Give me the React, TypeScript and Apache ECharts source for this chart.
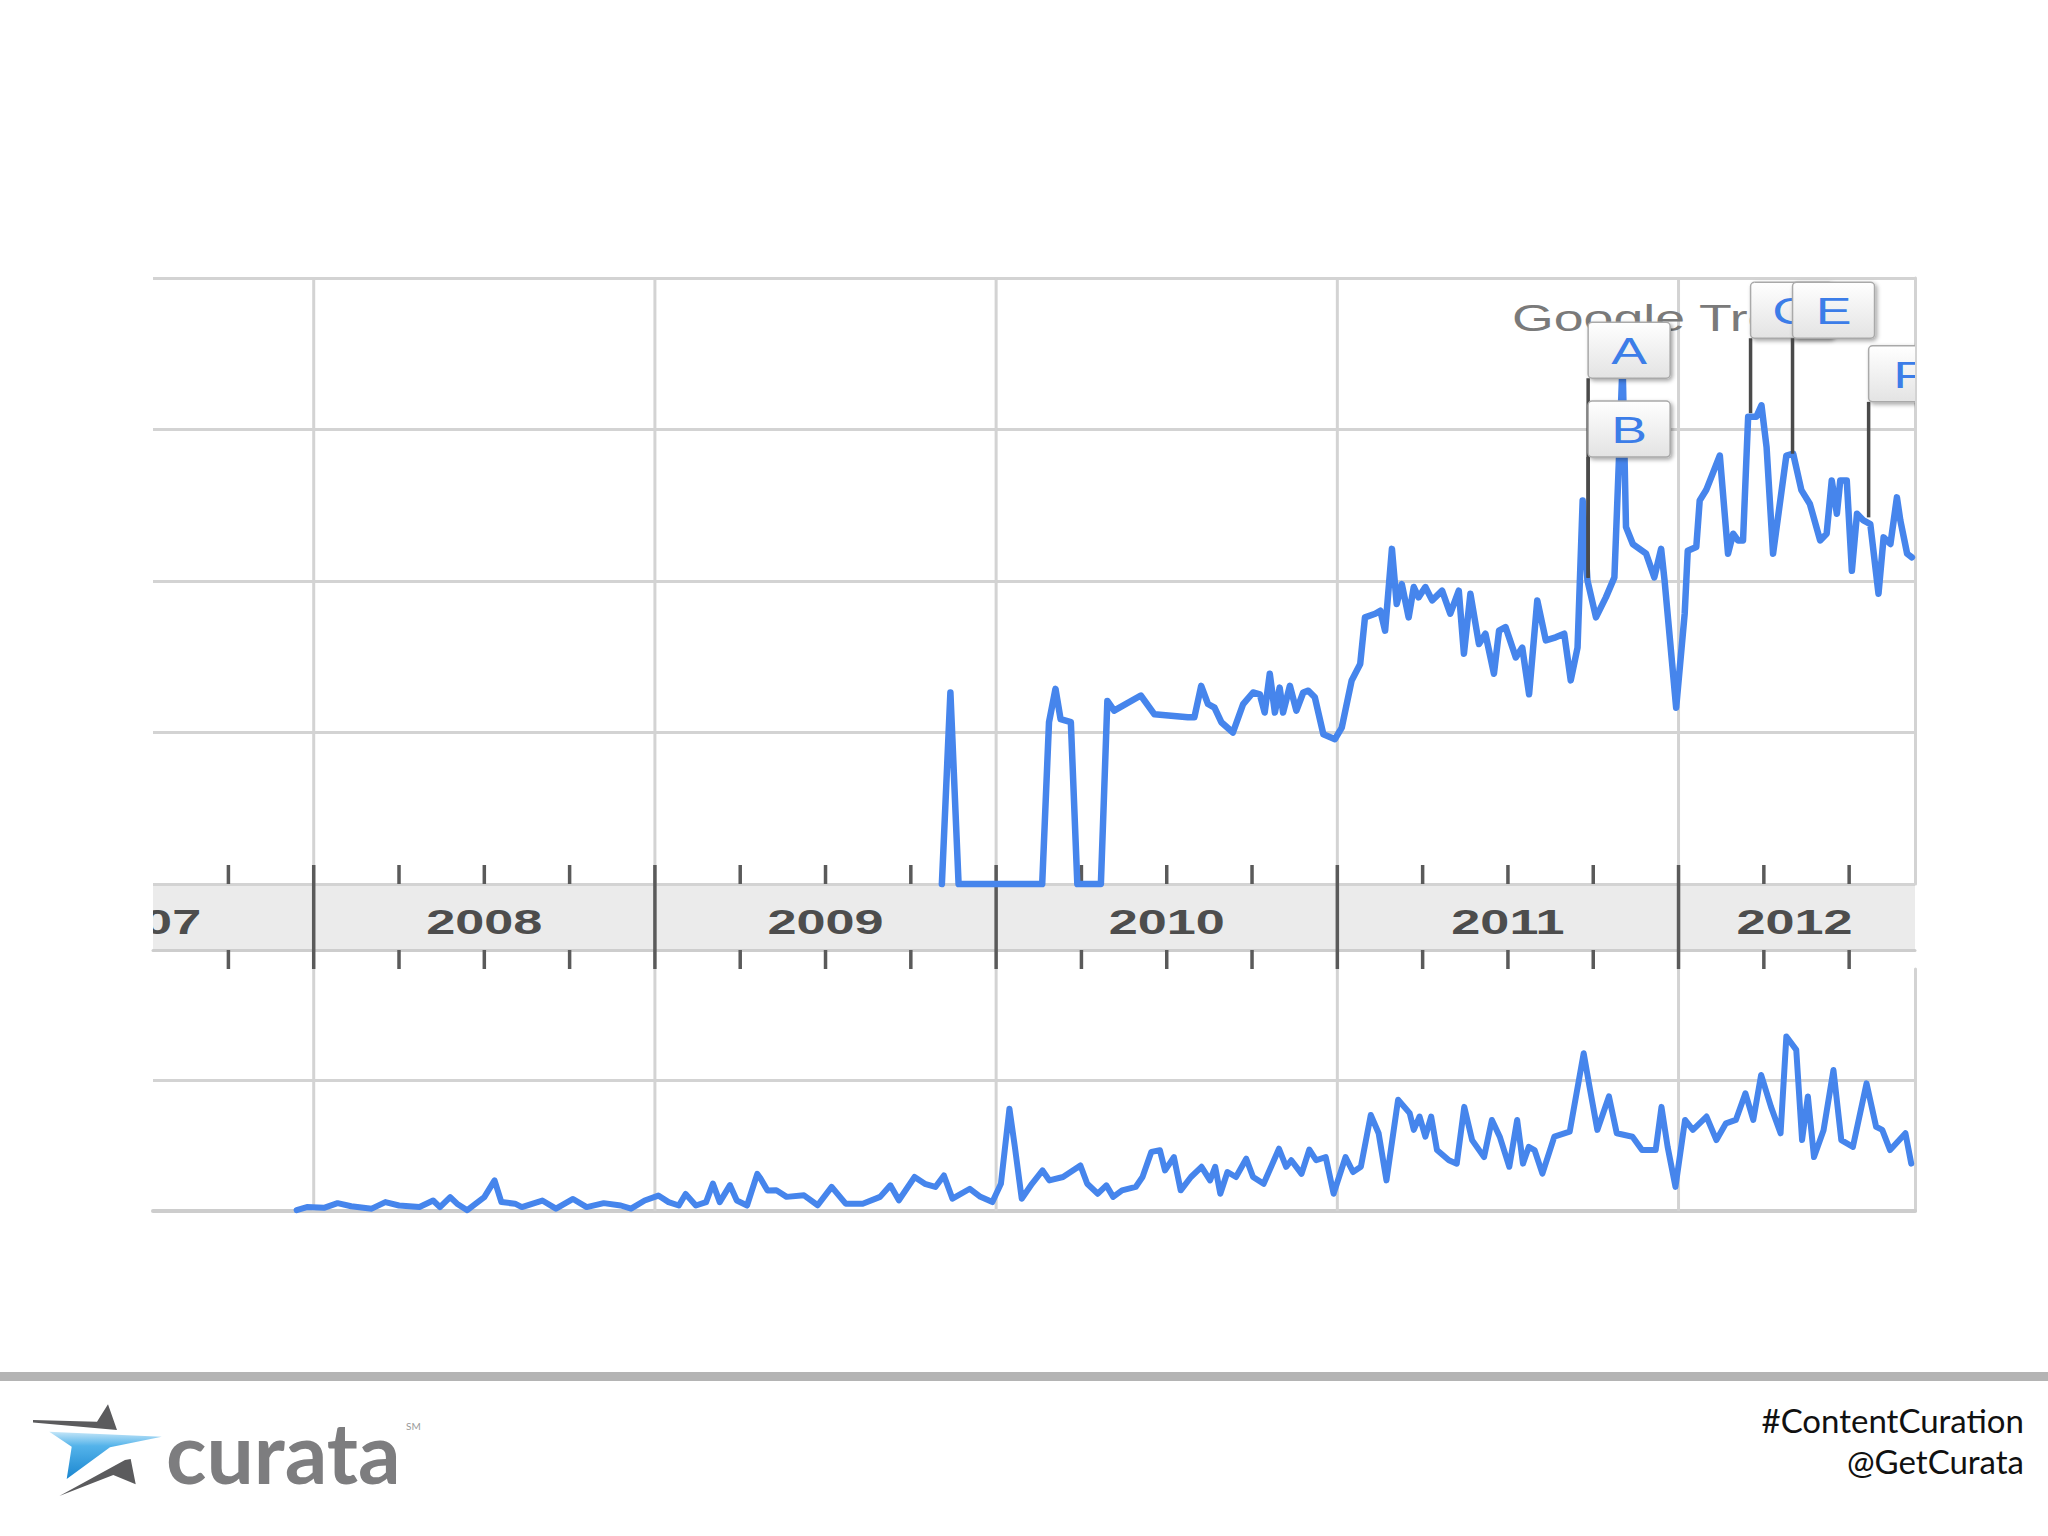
import React, { useEffect, useRef } from "react";
import * as echarts from "echarts";

// ---------- axis range (fractional years) ----------
const X_MIN = 2007.529;
const X_MAX = 2012.693;

const yearBoundaries = [2008, 2009, 2010, 2011, 2012];
const quarterTicks = [
  2007.75, 2008.25, 2008.5, 2008.75, 2009.25, 2009.5, 2009.75, 2010.25, 2010.5,
  2010.75, 2011.25, 2011.5, 2011.75, 2012.25, 2012.5,
];
const yearLabels = ["2007", "2008", "2009", "2010", "2011", "2012"];
const yearLabelPositions = [2007.5, 2008.5, 2009.5, 2010.5, 2011.5, 2012.34];

// ---------- search volume (upper chart) ----------
const upperYears = [
  2009.841, 2009.866, 2009.89, 2010.135, 2010.155, 2010.174, 2010.189, 2010.219, 2010.238,
  2010.307, 2010.326, 2010.346, 2010.424, 2010.464, 2010.562, 2010.581, 2010.601, 2010.621,
  2010.64, 2010.66, 2010.694, 2010.724, 2010.753, 2010.773, 2010.787, 2010.802, 2010.817,
  2010.831, 2010.841, 2010.861, 2010.88, 2010.9, 2010.915, 2010.934, 2010.959, 2010.993,
  2011.013, 2011.042, 2011.067, 2011.081, 2011.111, 2011.126, 2011.14, 2011.16, 2011.174,
  2011.189, 2011.209, 2011.224, 2011.238, 2011.258, 2011.278, 2011.307, 2011.331, 2011.356,
  2011.371, 2011.39, 2011.415, 2011.434, 2011.459, 2011.474, 2011.493, 2011.523, 2011.542,
  2011.562, 2011.586, 2011.611, 2011.64, 2011.665, 2011.684, 2011.704, 2011.719, 2011.733,
  2011.758, 2011.787, 2011.812, 2011.826, 2011.836, 2011.846, 2011.866, 2011.905, 2011.929,
  2011.949, 2011.959, 2011.993, 2012.018, 2012.027, 2012.052, 2012.062, 2012.081, 2012.121,
  2012.145, 2012.16, 2012.174, 2012.189, 2012.204, 2012.228, 2012.243, 2012.258, 2012.277,
  2012.316, 2012.336, 2012.36, 2012.385, 2012.415, 2012.434, 2012.449, 2012.464, 2012.474,
  2012.493, 2012.508, 2012.523, 2012.542, 2012.562, 2012.586, 2012.601, 2012.621, 2012.64,
  2012.65, 2012.67, 2012.684,
];
const upperValues = [
  0, 31.6, 0, 0, 26.7, 32.2, 27.2, 26.7, 0,
  0, 30.2, 28.6, 31.1, 28.0, 27.5, 27.5, 32.7, 29.7,
  29.1, 26.7, 25.0, 29.7, 31.6, 31.3, 28.3, 34.7, 28.3,
  32.4, 28.3, 32.7, 28.6, 31.6, 31.9, 30.8, 24.7, 23.9,
  25.8, 33.6, 36.3, 44.0, 44.6, 45.1, 41.8, 55.3, 46.2,
  49.5, 44.0, 49.0, 47.3, 49.0, 46.8, 48.4, 44.6, 48.4,
  38.0, 47.9, 39.6, 41.3, 34.7, 41.8, 42.4, 37.4, 39.0,
  31.3, 46.8, 40.2, 40.7, 41.3, 33.6, 39.0, 63.3, 50.1,
  44.0, 47.3, 50.6, 71.0, 86.0, 58.9, 56.1, 54.5, 50.6,
  55.3, 50.1, 29.1, 44.6, 55.0, 55.6, 63.3, 65.0, 70.7,
  54.5, 57.8, 56.7, 56.7, 77.1, 77.1, 79.0, 72.1, 54.5,
  70.7, 71.0, 65.0, 62.7, 56.7, 57.8, 66.6, 61.1, 66.6,
  66.6, 51.7, 61.1, 60.0, 59.4, 47.9, 57.2, 56.1, 63.8,
  60.0, 54.5, 53.9,
];

// ---------- news reference volume (lower chart) ----------
const lowerYears = [
  2007.95, 2007.98, 2008.03, 2008.07, 2008.11, 2008.17, 2008.21, 2008.25, 2008.31, 2008.35,
  2008.37, 2008.4, 2008.42, 2008.45, 2008.5, 2008.53, 2008.55, 2008.59, 2008.61, 2008.67,
  2008.71, 2008.76, 2008.8, 2008.85, 2008.9, 2008.93, 2008.97, 2009.01, 2009.04, 2009.07,
  2009.09, 2009.12, 2009.15, 2009.17, 2009.19, 2009.22, 2009.24, 2009.27, 2009.3, 2009.31,
  2009.33, 2009.356, 2009.386, 2009.437, 2009.477, 2009.518, 2009.559, 2009.609, 2009.66,
  2009.69, 2009.715, 2009.761, 2009.791, 2009.822, 2009.847, 2009.872, 2009.923, 2009.954,
  2009.989, 2010.014, 2010.039, 2010.055, 2010.075, 2010.105, 2010.136, 2010.156, 2010.196,
  2010.247, 2010.267, 2010.298, 2010.323, 2010.343, 2010.369, 2010.409, 2010.429, 2010.455,
  2010.48, 2010.495, 2010.521, 2010.541, 2010.571, 2010.602, 2010.627, 2010.642, 2010.657,
  2010.678, 2010.703, 2010.733, 2010.753, 2010.784, 2010.829, 2010.85, 2010.865, 2010.895,
  2010.918, 2010.938, 2010.966, 2010.989, 2011.024, 2011.046, 2011.069, 2011.098, 2011.121,
  2011.144, 2011.178, 2011.212, 2011.224, 2011.241, 2011.258, 2011.275, 2011.292, 2011.327,
  2011.35, 2011.372, 2011.395, 2011.43, 2011.453, 2011.476, 2011.504, 2011.527, 2011.544,
  2011.561, 2011.578, 2011.601, 2011.636, 2011.681, 2011.722, 2011.739, 2011.762, 2011.796,
  2011.819, 2011.865, 2011.893, 2011.933, 2011.95, 2011.968, 2011.991, 2012.019, 2012.042,
  2012.082, 2012.111, 2012.139, 2012.168, 2012.196, 2012.219, 2012.242, 2012.271, 2012.299,
  2012.316, 2012.345, 2012.362, 2012.379, 2012.397, 2012.425, 2012.454, 2012.477, 2012.511,
  2012.551, 2012.579, 2012.597, 2012.62, 2012.665, 2012.682,
];
const lowerValues = [
  0.3, 1.5, 1.2, 3.0, 1.8, 0.9, 3.4, 2.1, 1.5, 4.0,
  1.5, 5.3, 2.8, 0.3, 5.3, 11.7, 3.4, 2.8, 1.5, 4.0,
  0.9, 4.6, 1.5, 3.0, 2.1, 0.9, 4.0, 5.9, 3.4, 2.1,
  6.5, 2.1, 3.4, 10.5, 3.4, 9.9, 4.0, 2.1, 14.2, 12.3,
  7.8, 7.9, 5.4, 6.0, 2.2, 9.2, 2.8, 2.8, 5.4,
  9.8, 4.1, 13.0, 10.4, 9.2, 13.6, 4.7, 8.5, 5.4,
  3.4, 10.4, 39.1, 24.4, 4.7, 10.4, 15.5, 11.7, 13.0,
  17.4, 10.4, 6.6, 9.8, 5.4, 7.9, 9.2, 13.0, 22.6,
  23.2, 15.5, 20.6, 7.9, 13.0, 16.9, 11.7, 16.9, 6.6,
  14.9, 13.0, 20.0, 13.0, 10.4, 23.8, 16.9, 19.4, 14.2,
  23.5, 19.4, 20.6, 6.6, 20.6, 14.9, 16.9, 36.7, 29.7,
  11.7, 42.5, 37.4, 31.0, 36.1, 28.4, 36.1, 23.3, 19.4,
  18.1, 39.8, 27.1, 20.6, 34.8, 28.4, 16.9, 34.8, 18.1,
  24.5, 23.3, 14.3, 28.4, 30.3, 60.3, 47.6, 31.0, 43.8,
  29.7, 28.4, 23.3, 23.3, 39.8, 24.5, 9.2, 34.8, 31.0,
  36.1, 27.1, 33.5, 34.8, 45.0, 34.8, 52.0, 39.8, 29.7,
  66.7, 61.6, 27.1, 43.8, 20.6, 30.9, 53.9, 27.1, 24.5,
  48.8, 32.2, 31.0, 23.3, 29.7, 18.1,
];

// ---------- event flags ----------
const flagLetters = ["A", "B", "C", "E", "F"];
const flagYears = [2011.738, 2011.738, 2012.214, 2012.337, 2012.56];
const flagValues = [50.5, 50.6, 77.7, 71.0, 60.5];
const flagBoxTops = [92.7, 79.7, 99.3, 99.3, 88.8];

const LINE_COLOR = "#4685ec";
const GRID_COLOR = "#d3d3d3";
const TICK_COLOR = "#5a5a5a";
const STRETCH = 1.45;

export default function App() {
  const ref = useRef<HTMLDivElement>(null);

  useEffect(() => {
    if (!ref.current) return;
    const chart = echarts.init(ref.current, null, { renderer: "svg" });

    const vGrid = (color: string, extra: number) => (params: any, api: any) => {
      const p = api.coord([api.value(0), api.value(1)]);
      const s = params.coordSys;
      return {
        type: "line",
        shape: { x1: p[0], y1: s.y - extra, x2: p[0], y2: s.y + s.height + extra },
        style: { stroke: color, lineWidth: 3 },
      };
    };

    const boxFill = new echarts.graphic.LinearGradient(0, 0, 0, 1, [
      { offset: 0, color: "#ffffff" },
      { offset: 1, color: "#e3e3e3" },
    ]);

    const option: any = {
      animation: false,
      backgroundColor: "#ffffff",
      grid: [
        { left: 153, right: 133, top: 278, height: 606 },
        { left: 153, right: 133, top: 884, height: 66, show: true, backgroundColor: "#ebebeb", borderWidth: 0 },
        { left: 153, right: 133, top: 969, height: 242 },
      ],
      xAxis: [0, 1, 2].map((g) => ({
        gridIndex: g,
        type: "value",
        min: X_MIN,
        max: X_MAX,
        position: "bottom",
        axisLine: {
          show: g !== 0,
          onZero: false,
          lineStyle: { color: "#cdcdcd", width: g === 2 ? 4 : 3 },
        },
        axisTick: { show: false },
        axisLabel: { show: false },
        splitLine: { show: false },
      })),
      yAxis: [
        {
          gridIndex: 0,
          type: "value",
          min: 0,
          max: 100,
          interval: 25,
          position: "right",
          axisLine: { show: true, onZero: false, lineStyle: { color: GRID_COLOR, width: 3 } },
          axisTick: { show: false },
          axisLabel: { show: false },
          splitLine: { show: true, lineStyle: { color: GRID_COLOR, width: 3 } },
        },
        { gridIndex: 1, type: "value", min: 0, max: 1, show: false },
        {
          gridIndex: 2,
          type: "value",
          min: 0,
          max: 92.5,
          interval: 50,
          position: "right",
          axisLine: { show: true, onZero: false, lineStyle: { color: GRID_COLOR, width: 3 } },
          axisTick: { show: false },
          axisLabel: { show: false },
          splitLine: { show: true, showMinLine: false, showMaxLine: false, lineStyle: { color: GRID_COLOR, width: 3 } },
        },
      ],
      graphic: {
        elements: [
          {
            type: "text",
            x: 1512,
            y: 318,
            scaleX: STRETCH,
            z: 2,
            style: { text: "Google Trends", fill: "#7a7a7a", fontSize: 37, fontFamily: "Liberation Sans", verticalAlign: "middle", align: "left" },
          },
          { type: "rect", shape: { x: 0, y: 1372, width: 2048, height: 9 }, style: { fill: "#b4b4b4" } },
          {
            type: "text",
            x: 2024,
            y: 1420,
            style: { text: "#ContentCuration", fill: "#111111", fontSize: 33, fontFamily: "Lato", align: "right", verticalAlign: "middle" },
          },
          {
            type: "text",
            x: 2024,
            y: 1461,
            style: { text: "@GetCurata", fill: "#111111", fontSize: 33, fontFamily: "Lato", align: "right", verticalAlign: "middle" },
          },
          {
            type: "polygon",
            shape: { points: [[33, 1420], [97, 1421.7], [108, 1404.3], [117, 1430], [33, 1422.5]] },
            style: { fill: "#5b5b5d" },
          },
          {
            type: "polygon",
            shape: { points: [[49.3, 1431.7], [161.7, 1436.7], [110, 1447.3], [66.7, 1479], [71.7, 1446.7]] },
            style: {
              fill: new echarts.graphic.LinearGradient(0, 0, 0, 1, [
                { offset: 0, color: "#c4e6f8" },
                { offset: 0.3, color: "#54b3ea" },
                { offset: 1, color: "#1a86d0" },
              ]),
            },
          },
          {
            type: "polygon",
            shape: { points: [[59.3, 1496], [125, 1460], [130.7, 1459], [135.7, 1484.3], [113.3, 1475]] },
            style: { fill: "#5b5b5d" },
          },
          {
            type: "text",
            x: 166,
            y: 1451,
            style: { text: "curata", fill: "#7d7d7f", fontSize: 84, fontWeight: "bold", fontFamily: "Lato", align: "left", verticalAlign: "middle" },
          },
          {
            type: "text",
            x: 406,
            y: 1426,
            style: { text: "SM", fill: "#9a9a9a", fontSize: 10, fontFamily: "Lato", align: "left", verticalAlign: "middle" },
          },
        ],
      },
      series: [
        {
          type: "custom",
          xAxisIndex: 0,
          yAxisIndex: 0,
          z: 1,
          silent: true,
          data: yearBoundaries.map((x) => [x, 50]),
          renderItem: vGrid(GRID_COLOR, 0),
        },
        {
          type: "custom",
          xAxisIndex: 2,
          yAxisIndex: 2,
          z: 1,
          silent: true,
          data: yearBoundaries.map((x) => [x, 10]),
          renderItem: vGrid(GRID_COLOR, 0),
        },
        {
          type: "custom",
          xAxisIndex: 1,
          yAxisIndex: 1,
          z: 3,
          silent: true,
          data: yearBoundaries.map((x) => [x, 0.5]),
          renderItem: (params: any, api: any) => {
            const p = api.coord([api.value(0), api.value(1)]);
            const s = params.coordSys;
            return {
              type: "line",
              shape: { x1: p[0], y1: s.y - 19, x2: p[0], y2: s.y + s.height + 19 },
              style: { stroke: TICK_COLOR, lineWidth: 3.5 },
            };
          },
        },
        {
          type: "custom",
          xAxisIndex: 1,
          yAxisIndex: 1,
          z: 3,
          silent: true,
          data: quarterTicks.map((x) => [x, 0.5]),
          renderItem: (params: any, api: any) => {
            const p = api.coord([api.value(0), api.value(1)]);
            const s = params.coordSys;
            return {
              type: "group",
              children: [
                { type: "line", shape: { x1: p[0], y1: s.y - 19, x2: p[0], y2: s.y }, style: { stroke: TICK_COLOR, lineWidth: 3.5 } },
                {
                  type: "line",
                  shape: { x1: p[0], y1: s.y + s.height, x2: p[0], y2: s.y + s.height + 19 },
                  style: { stroke: TICK_COLOR, lineWidth: 3.5 },
                },
              ],
            };
          },
        },
        {
          type: "custom",
          xAxisIndex: 1,
          yAxisIndex: 1,
          z: 3,
          clip: true,
          silent: true,
          data: yearLabelPositions.map((x) => [x, 0.5]),
          renderItem: (params: any, api: any) => {
            const p = api.coord([api.value(0), api.value(1)]);
            return {
              type: "text",
              x: p[0],
              y: p[1] + 5,
              scaleX: STRETCH,
              style: {
                text: yearLabels[params.dataIndex],
                fill: "#4d4d4d",
                fontSize: 36,
                fontWeight: "bold",
                fontFamily: "Liberation Sans",
                align: "center",
                verticalAlign: "middle",
              },
            };
          },
        },
        {
          type: "line",
          xAxisIndex: 0,
          yAxisIndex: 0,
          z: 4,
          silent: true,
          clip: false,
          showSymbol: false,
          symbol: "none",
          data: upperYears.map((x, i) => [x, upperValues[i]]),
          lineStyle: { color: LINE_COLOR, width: 6.5, join: "round", cap: "round" },
        },
        {
          type: "line",
          xAxisIndex: 2,
          yAxisIndex: 2,
          z: 4,
          silent: true,
          clip: false,
          showSymbol: false,
          symbol: "none",
          data: lowerYears.map((x, i) => [x, lowerValues[i]]),
          lineStyle: { color: LINE_COLOR, width: 6, join: "round", cap: "round" },
        },
        {
          type: "custom",
          xAxisIndex: 0,
          yAxisIndex: 0,
          z: 10,
          clip: true,
          silent: true,
          data: flagYears.map((x, i) => [x, flagValues[i], flagBoxTops[i]]),
          renderItem: (params: any, api: any) => {
            const i = params.dataIndex;
            const anchor = api.coord([api.value(0), api.value(1)]);
            const top = api.coord([api.value(0), api.value(2)]);
            const w = 82;
            const h = 56;
            const left = anchor[0] - 1;
            const bt = top[1];
            return {
              type: "group",
              children: [
                { type: "line", shape: { x1: left, y1: bt + h, x2: left, y2: anchor[1] }, style: { stroke: "#4a4a4a", lineWidth: 3.5 } },
                {
                  type: "rect",
                  shape: { x: left, y: bt, width: w, height: h, r: 4 },
                  style: {
                    fill: boxFill,
                    stroke: "#a9a9a9",
                    lineWidth: 1.5,
                    shadowBlur: 4,
                    shadowOffsetX: 2,
                    shadowOffsetY: 2,
                    shadowColor: "rgba(0,0,0,0.35)",
                  },
                },
                {
                  type: "text",
                  x: left + w / 2,
                  y: bt + h / 2 + 1,
                  scaleX: STRETCH,
                  style: {
                    text: flagLetters[i],
                    fill: "#3c7de8",
                    fontSize: 37,
                    fontFamily: "Liberation Sans",
                    align: "center",
                    verticalAlign: "middle",
                  },
                },
              ],
            };
          },
        },
      ],
    };

    chart.setOption(option);
    return () => chart.dispose();
  }, []);

  return (
    <div
      ref={ref}
      style={{ position: "fixed", left: 0, top: 0, width: 2048, height: 1536, background: "#ffffff" }}
    />
  );
}
